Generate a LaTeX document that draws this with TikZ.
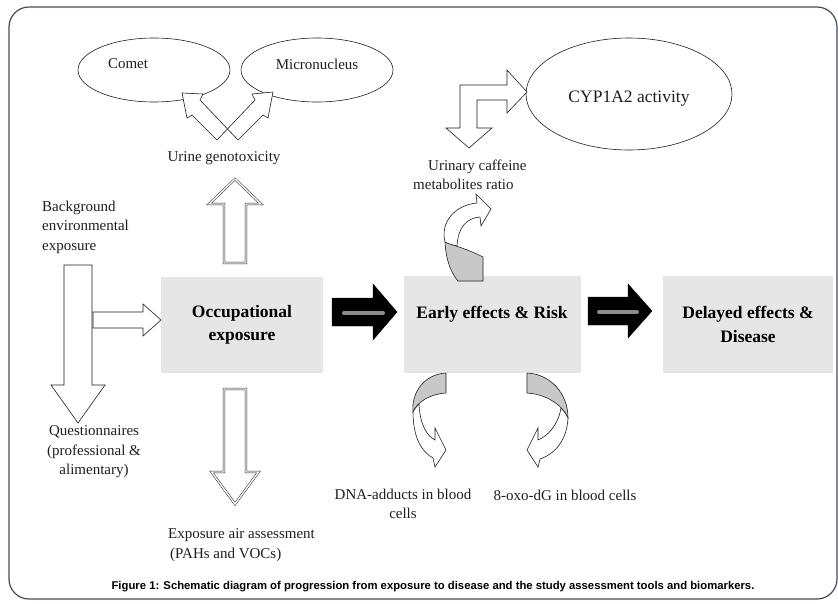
\documentclass[tikz,border=0pt]{standalone}
\usepackage{fontspec}
\setmainfont{Liberation Serif}
\newfontfamily\capfont{Liberation Sans}
\usetikzlibrary{shapes.geometric,calc}

\definecolor{boxgrey}{RGB}{230,230,230}
\definecolor{twistgrey}{RGB}{200,200,200}
\definecolor{framecol}{RGB}{70,70,100}
\definecolor{barcol}{RGB}{140,140,140}
\definecolor{inkcol}{RGB}{30,30,30}

% block arrow: tail, tip, half shaft width, half head width, head length
\newcommand{\blockarrow}[6][]{%
  \draw[#1] ($#2!#4!90:#3$) -- ($#3!#6!#2!#4!90:#3$) -- ($#3!#6!#2!#5!90:#3$) -- #3
    -- ($#3!#6!#2!#5!-90:#3$) -- ($#3!#6!#2!#4!-90:#3$) -- ($#2!#4!-90:#3$) -- cycle;}

\begin{document}
\begin{tikzpicture}[x=1pt, y=-1pt,
    lbl/.style={font=\fontsize{15}{19.5}\selectfont, align=center, inner sep=0pt, text=inkcol},
    boxtxt/.style={font=\fontsize{17.5}{23.5}\selectfont\bfseries, align=center, inner sep=0pt},
    greybox/.style={fill=boxgrey, inner sep=0pt},
    oval/.style={ellipse, draw=inkcol, line width=0.6pt, inner sep=0pt},
    hollow/.style={draw=inkcol, fill=white, line width=0.6pt, line join=miter},
    dblarrow/.style={draw=inkcol, fill=white, line width=0.5pt, double=white, double distance=1.4pt},
    solidarrow/.style={draw=black, fill=black},
    twist/.style={draw=inkcol, fill=twistgrey, line width=0.6pt}]
  \useasboundingbox (0,0) rectangle (838,603);
  \draw[framecol, line width=1.2pt, rounded corners=20pt] (9,7) rectangle (837,599);

  % grey boxes
  \node[greybox, minimum width=162pt, minimum height=96pt] (occ) at (242,325) {};
  \node[greybox, minimum width=177pt, minimum height=97pt] (early) at (492.5,324.5) {};
  \node[greybox, minimum width=170pt, minimum height=97pt] (delayed) at (748,324.5) {};
  \node[boxtxt] (occtxt) at (occ) {Occupational\\exposure};
  \node[boxtxt] (earlytxt) at (492,314) {Early effects \& Risk};
  \node[boxtxt] (delayedtxt) at (delayed) {Delayed effects \&\\Disease};

  % ovals
  \node[oval, minimum width=152pt, minimum height=64pt] (comet) at (154,70) {};
  \node[oval, minimum width=152pt, minimum height=64pt] (micro) at (317,70) {};
  \node[oval, minimum width=206pt, minimum height=112pt] (cyp) at (629,94) {};
  \node[lbl] (comettxt) at (128,64) {Comet};
  \node[lbl] (microtxt) at (317,64) {Micronucleus};
  \node[lbl, font=\fontsize{17.5}{21}\selectfont] (cyptxt) at (629,99) {CYP1A2 activity};

  % labels
  \node[lbl] (urine) at (224,158) {Urine genotoxicity};
  \node[lbl, align=left, anchor=west] (backgr) at (42,227) {Background\\environmental\\exposure};
  \node[lbl] (quest) at (94,452) {Questionnaires\\(professional \&\\alimentary)};
  \node[lbl, align=left, anchor=west] (air) at (168,545) {Exposure air assessment\\\hspace*{2pt}(PAHs and VOCs)};
  \node[lbl, align=left, anchor=west] (caff) at (413,175) {\hspace*{15pt}Urinary caffeine\\metabolites ratio};
  \node[lbl] (dna) at (403,504) {DNA-adducts in blood\\cells};
  \node[lbl] (oxo) at (565,495) {8-oxo-dG in blood cells};
  \node[font=\capfont\bfseries\fontsize{11.3}{13}\selectfont, inner sep=0pt] (caption) at (433,587)
    {Figure 1: Schematic diagram of progression from exposure to disease and the study assessment tools and biomarkers.};

  % crossed arrows to comet and micronucleus
  \path[fill=white] (217,140) -- (192,115) -- (187,118) -- (182,93) -- (203,94) -- (200,100) -- (238,140) -- cycle;
  \path[fill=white] (238,140) -- (263,115) -- (268,118) -- (273,92) -- (252,94) -- (255,100) -- (217,140) -- cycle;
  \draw[inkcol, line width=0.6pt] (217,140) -- (192,115) -- (187,118) -- (182,93) -- (203,94) -- (200,100) -- (238,140);
  \draw[inkcol, line width=0.6pt] (238,140) -- (263,115) -- (268,118) -- (273,92) -- (252,94) -- (255,100) -- (217,140);

  % left arrows
  \blockarrow[hollow]{(93,320)}{(161,320)}{8pt}{16pt}{18pt}
  \blockarrow[hollow]{(78,265)}{(78,423)}{14pt}{27pt}{38pt}

  % double outlined arrows
  \blockarrow[dblarrow]{(235,263)}{(235,179)}{11pt}{26pt}{25pt}
  \blockarrow[dblarrow]{(235,389)}{(235,504)}{11pt}{23.5pt}{32pt}

  % black arrows
  \blockarrow[solidarrow]{(332,312)}{(397,312)}{14pt}{28pt}{24pt}
  \blockarrow[solidarrow]{(588,311)}{(652,311)}{14pt}{27pt}{24pt}
  \draw[barcol, line width=4pt, line cap=round] (344,313) -- (383,313);
  \draw[barcol, line width=4pt, line cap=round] (599,312) -- (637,312);

  % bent arrow from cyp
  \draw[hollow] (460,85) -- (507,85) -- (507,70) -- (527,92) -- (507,113) -- (507,100) -- (477,100)
    -- (477,128) -- (492,128) -- (469,148) -- (446,128) -- (460,128) -- cycle;

  % curved arrows round the early box
  \draw[twist] (445,242) .. controls (446,262) and (452,274) .. (458,281) -- (483,281) -- (483,257)
    .. controls (470,250) and (455,246) .. (445,242);
  \draw[hollow] (445,242) .. controls (440,222) and (455,205) .. (477,203) -- (476,194) -- (491,209)
    -- (481,226) -- (480,217) .. controls (466,218) and (458,228) .. (457,246)
    .. controls (453,245) and (449,244) .. (445,242);

  \draw[twist] (446,373) -- (446,393) .. controls (430,394) and (417,402) .. (413,412)
    .. controls (411,392) and (425,374) .. (446,373);
  \draw[hollow] (413,412) .. controls (413,438) and (422,452) .. (433,458) -- (435,467) -- (446,450)
    -- (435,428) -- (435,440) .. controls (427,436) and (420,425) .. (419,404)
    .. controls (416,407) and (414,410) .. (413,412);

  \draw[twist] (527,373) -- (527,393) .. controls (545,394) and (562,404) .. (568,418)
    .. controls (568,393) and (550,374) .. (527,373);
  \draw[hollow] (568,418) .. controls (567,440) and (555,454) .. (540,459) -- (538,467) -- (527,450)
    -- (538,428) -- (538,440) .. controls (548,436) and (558,425) .. (561,408)
    .. controls (564,411) and (566,414) .. (568,418);
\end{tikzpicture}
\end{document}
